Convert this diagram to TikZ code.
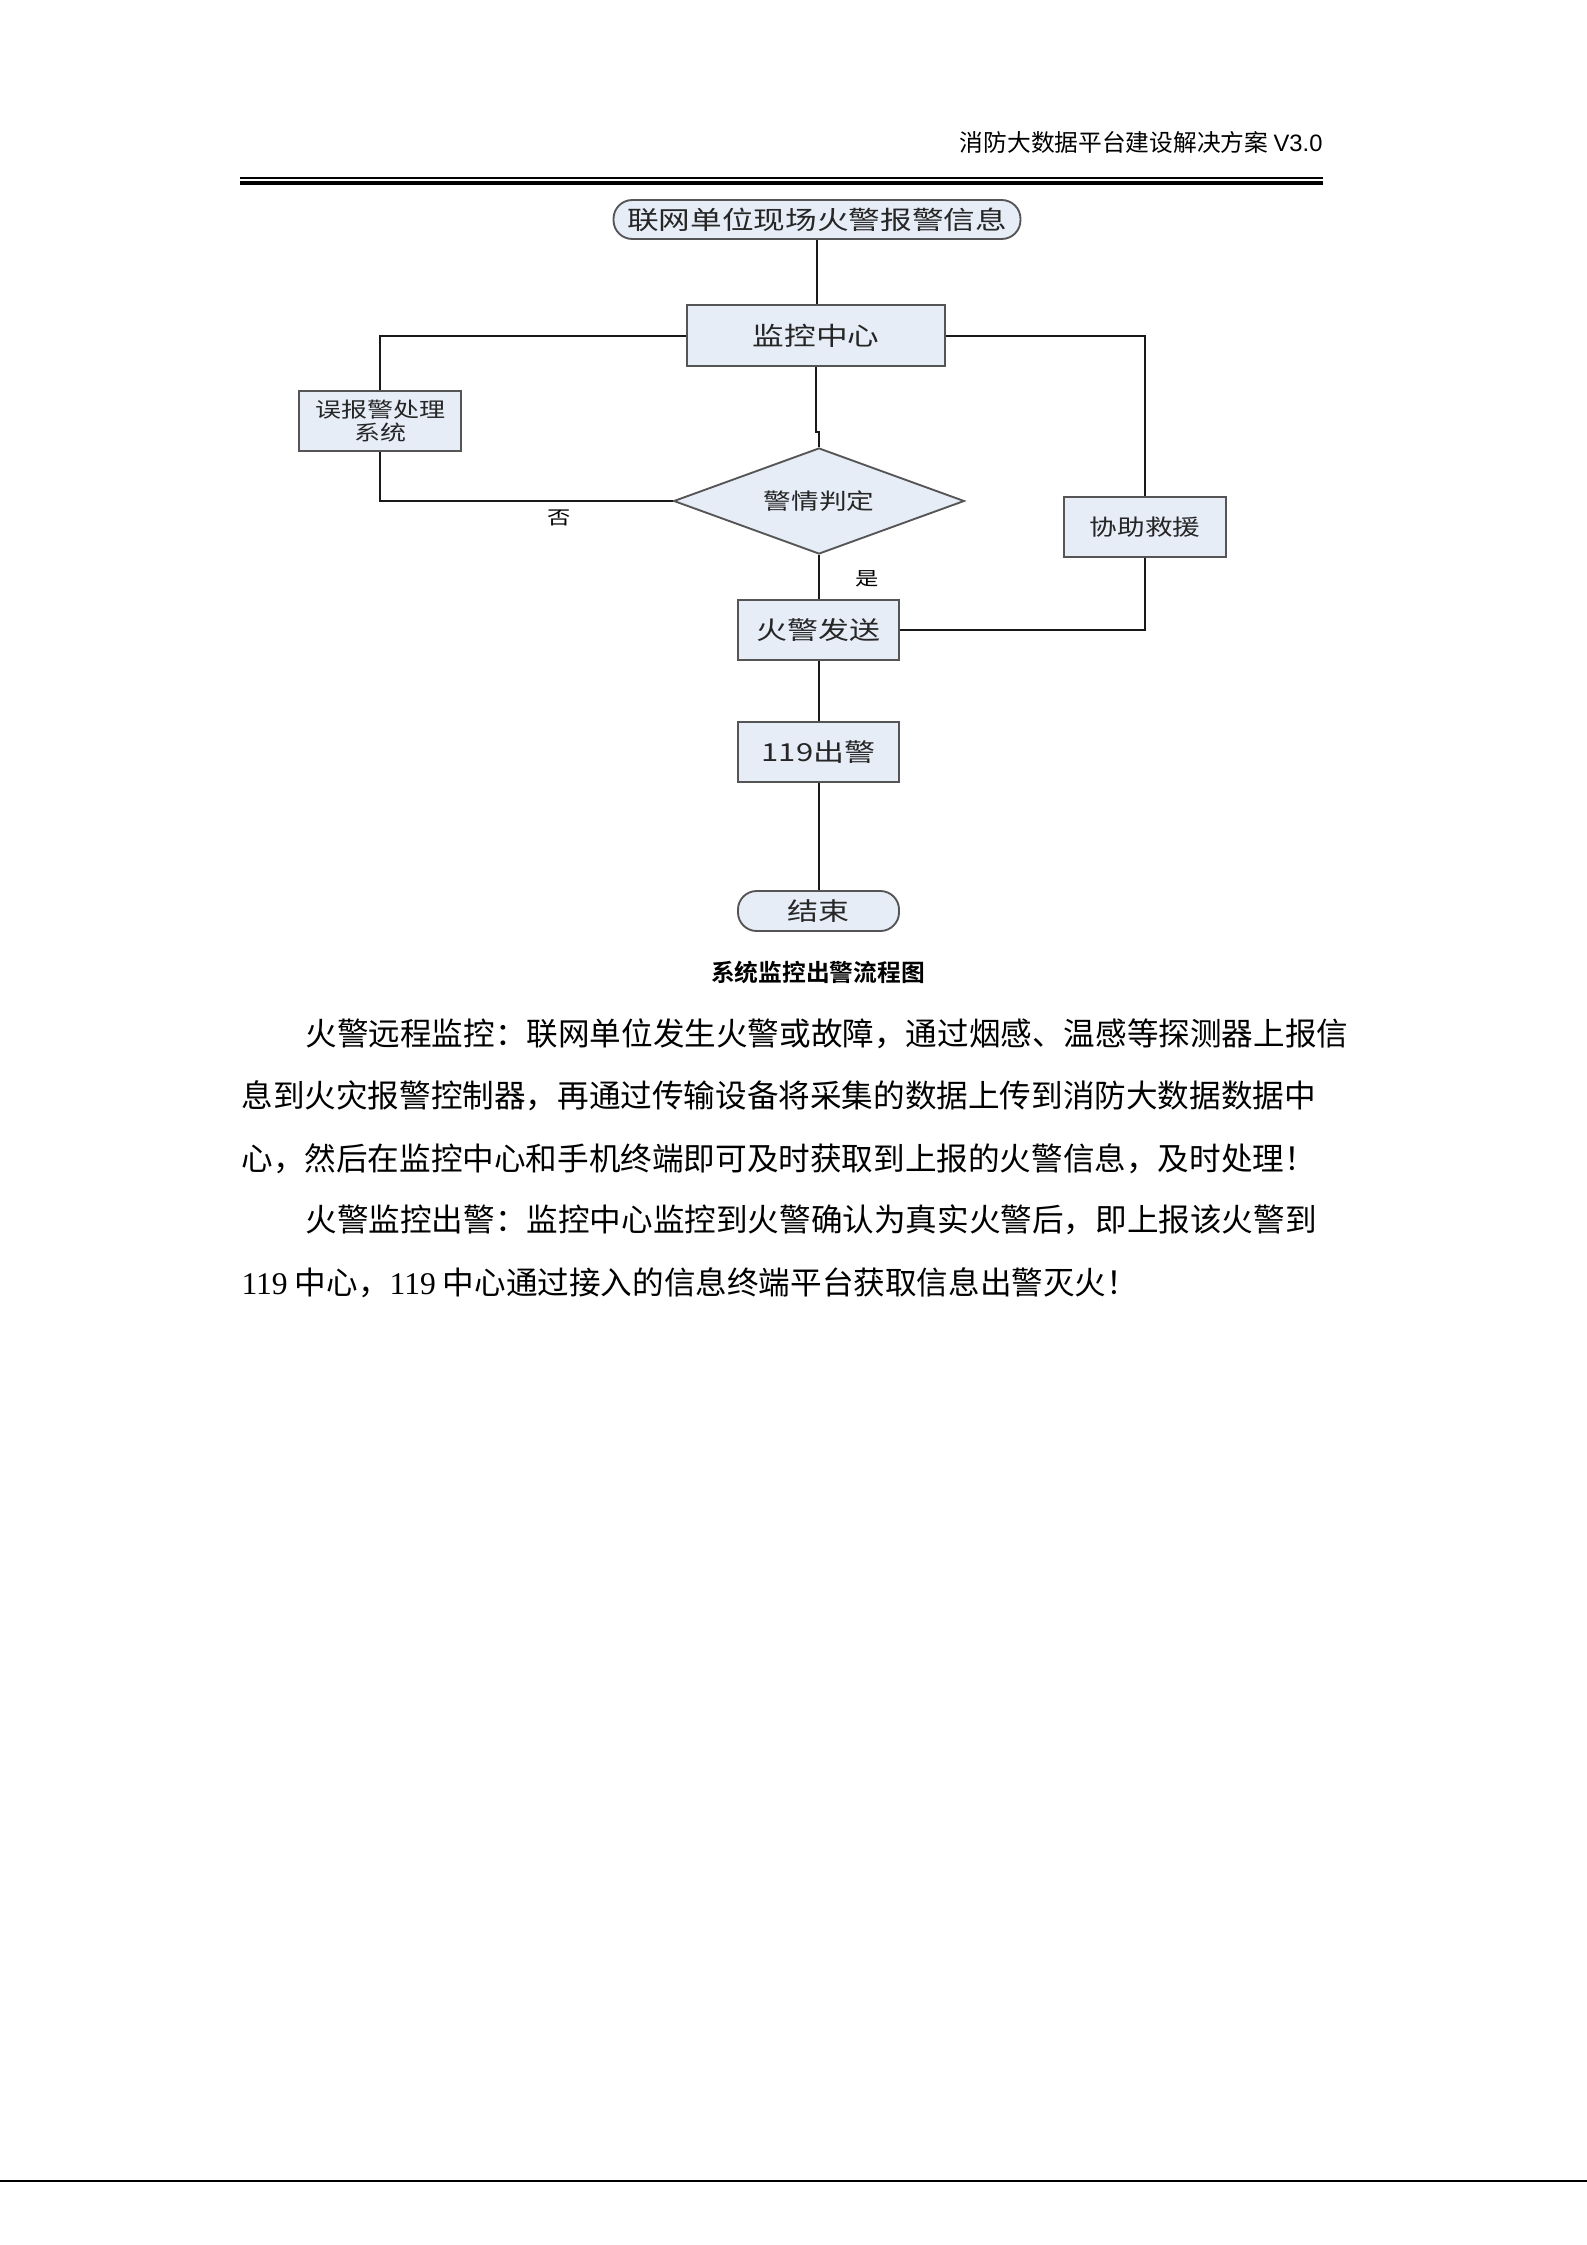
\documentclass[tikz,border=0pt]{standalone}
\usepackage{fontspec}
\usepackage{graphicx}
\setmainfont{Liberation Serif}
\newfontfamily\cjk{Noto Sans CJK SC}[BoldFont={Noto Sans CJK SC Bold}]
\newfontfamily\arialf{Liberation Sans}
\usetikzlibrary{shapes.geometric}
\definecolor{boxfill}{RGB}{231,237,247}
\definecolor{boxline}{RGB}{85,85,85}
\newcommand{\hwide}[1]{\scalebox{1.25}[1]{#1}}
\begin{document}
\begin{tikzpicture}[x=0.375pt,y=-0.375pt,
  box/.style={draw=boxline, line width=0.7pt, fill=boxfill, inner sep=0pt, align=center, text=black!85},
  term/.style={box, rounded corners=7pt},
  conn/.style={draw=black!90, line width=0.75pt},
  lbl/.style={inner sep=0pt, font=\cjk\fontsize{7}{8}\selectfont},
  body/.style={anchor=west, inner sep=0pt, font=\cjk\fontsize{11.85}{14}\selectfont}]
\useasboundingbox (0,0) rectangle (1587,2245);
\fill[white] (0,0) rectangle (1587,2245);

% header
\node[anchor=east, inner sep=0pt, font=\cjk\fontsize{8.9}{10}\selectfont] (hdr) at (1323,142) {消防大数据平台建设解决方案 {\arialf V3.0}};
\draw[line width=0.75pt] (240,178) -- (1323,178);
\draw[line width=1.5pt] (240,182.7) -- (1323,182.7);

% flowchart nodes
\node[term, minimum width=152.6pt, minimum height=14.6pt, font=\cjk\fontsize{9.5}{11}\selectfont] (start) at (817,219.5) {\hwide{联网单位现场火警报警信息}};
\node[box, minimum width=96.8pt, minimum height=22.9pt, font=\cjk\fontsize{9.5}{11}\selectfont] (mon) at (816,335.5) {\hwide{监控中心}};
\node[box, minimum width=60.8pt, minimum height=22.5pt, font=\cjk\fontsize{7.8}{8.6}\selectfont] (false) at (380,421) {\hwide{误报警处理}\\\hwide{系统}};
\node[diamond, draw=boxline, line width=0.7pt, fill=boxfill, inner sep=0pt, shape aspect=2.74, minimum width=109pt, minimum height=39.75pt, text=black!85, font=\cjk\fontsize{8.3}{10}\selectfont] (dia) at (819,501) {\hwide{警情判定}};
\node[box, minimum width=60.8pt, minimum height=22.5pt, font=\cjk\fontsize{8.3}{10}\selectfont] (help) at (1145,527) {\hwide{协助救援}};
\node[box, minimum width=60.4pt, minimum height=22.5pt, font=\cjk\fontsize{9.3}{11}\selectfont] (send) at (818.5,630) {\hwide{火警发送}};
\node[box, minimum width=60.4pt, minimum height=22.5pt, font=\cjk\fontsize{9.3}{11}\selectfont] (fire) at (818.5,752) {\hwide{119出警}};
\node[term, minimum width=60.4pt, minimum height=15pt, font=\cjk\fontsize{9.3}{11}\selectfont] (end) at (818.5,911) {\hwide{结束}};
\coordinate (kink) at (819,432);

\node[lbl] (no) at (559,518) {\hwide{否}};
\node[lbl] (yes) at (867,579) {\hwide{是}};

% connectors
\draw[conn] (start.south) -- (start.south |- mon.north);
\draw[conn] (mon.west) -| (false.north);
\draw[conn] (mon.east) -| (help.north);
\draw[conn] (mon.south) |- (kink) -- (dia.north);
\draw[conn] (dia.west) -| (false.south);
\draw[conn] (dia.south) -- (dia.south |- send.north);
\draw[conn] (help.south) |- (send.east);
\draw[conn] (send.south) -- (fire.north);
\draw[conn] (fire.south) -- (end.north);

% caption
\node[inner sep=0pt, font=\cjk\bfseries\fontsize{8.9}{10}\selectfont] (cap) at (818,972) {系统监控出警流程图};

% body text
\node[body] (l1) at (305,1034) {火警远程监控：联网单位发生火警或故障，通过烟感、温感等探测器上报信};
\node[body] (l2) at (241,1096) {息到火灾报警控制器，再通过传输设备将采集的数据上传到消防大数据数据中};
\node[body] (l3) at (241,1159) {心，然后在监控中心和手机终端即可及时获取到上报的火警信息，及时处理！};
\node[body] (l4) at (305,1220) {火警监控出警：监控中心监控到火警确认为真实火警后，即上报该火警到};
\node[body] (l5) at (241,1283) {{\rmfamily 119} 中心，{\rmfamily 119} 中心通过接入的信息终端平台获取信息出警灭火！};

% footer line
\draw[line width=0.6pt] (0,2181) -- (1587,2181);
\end{tikzpicture}
\end{document}
